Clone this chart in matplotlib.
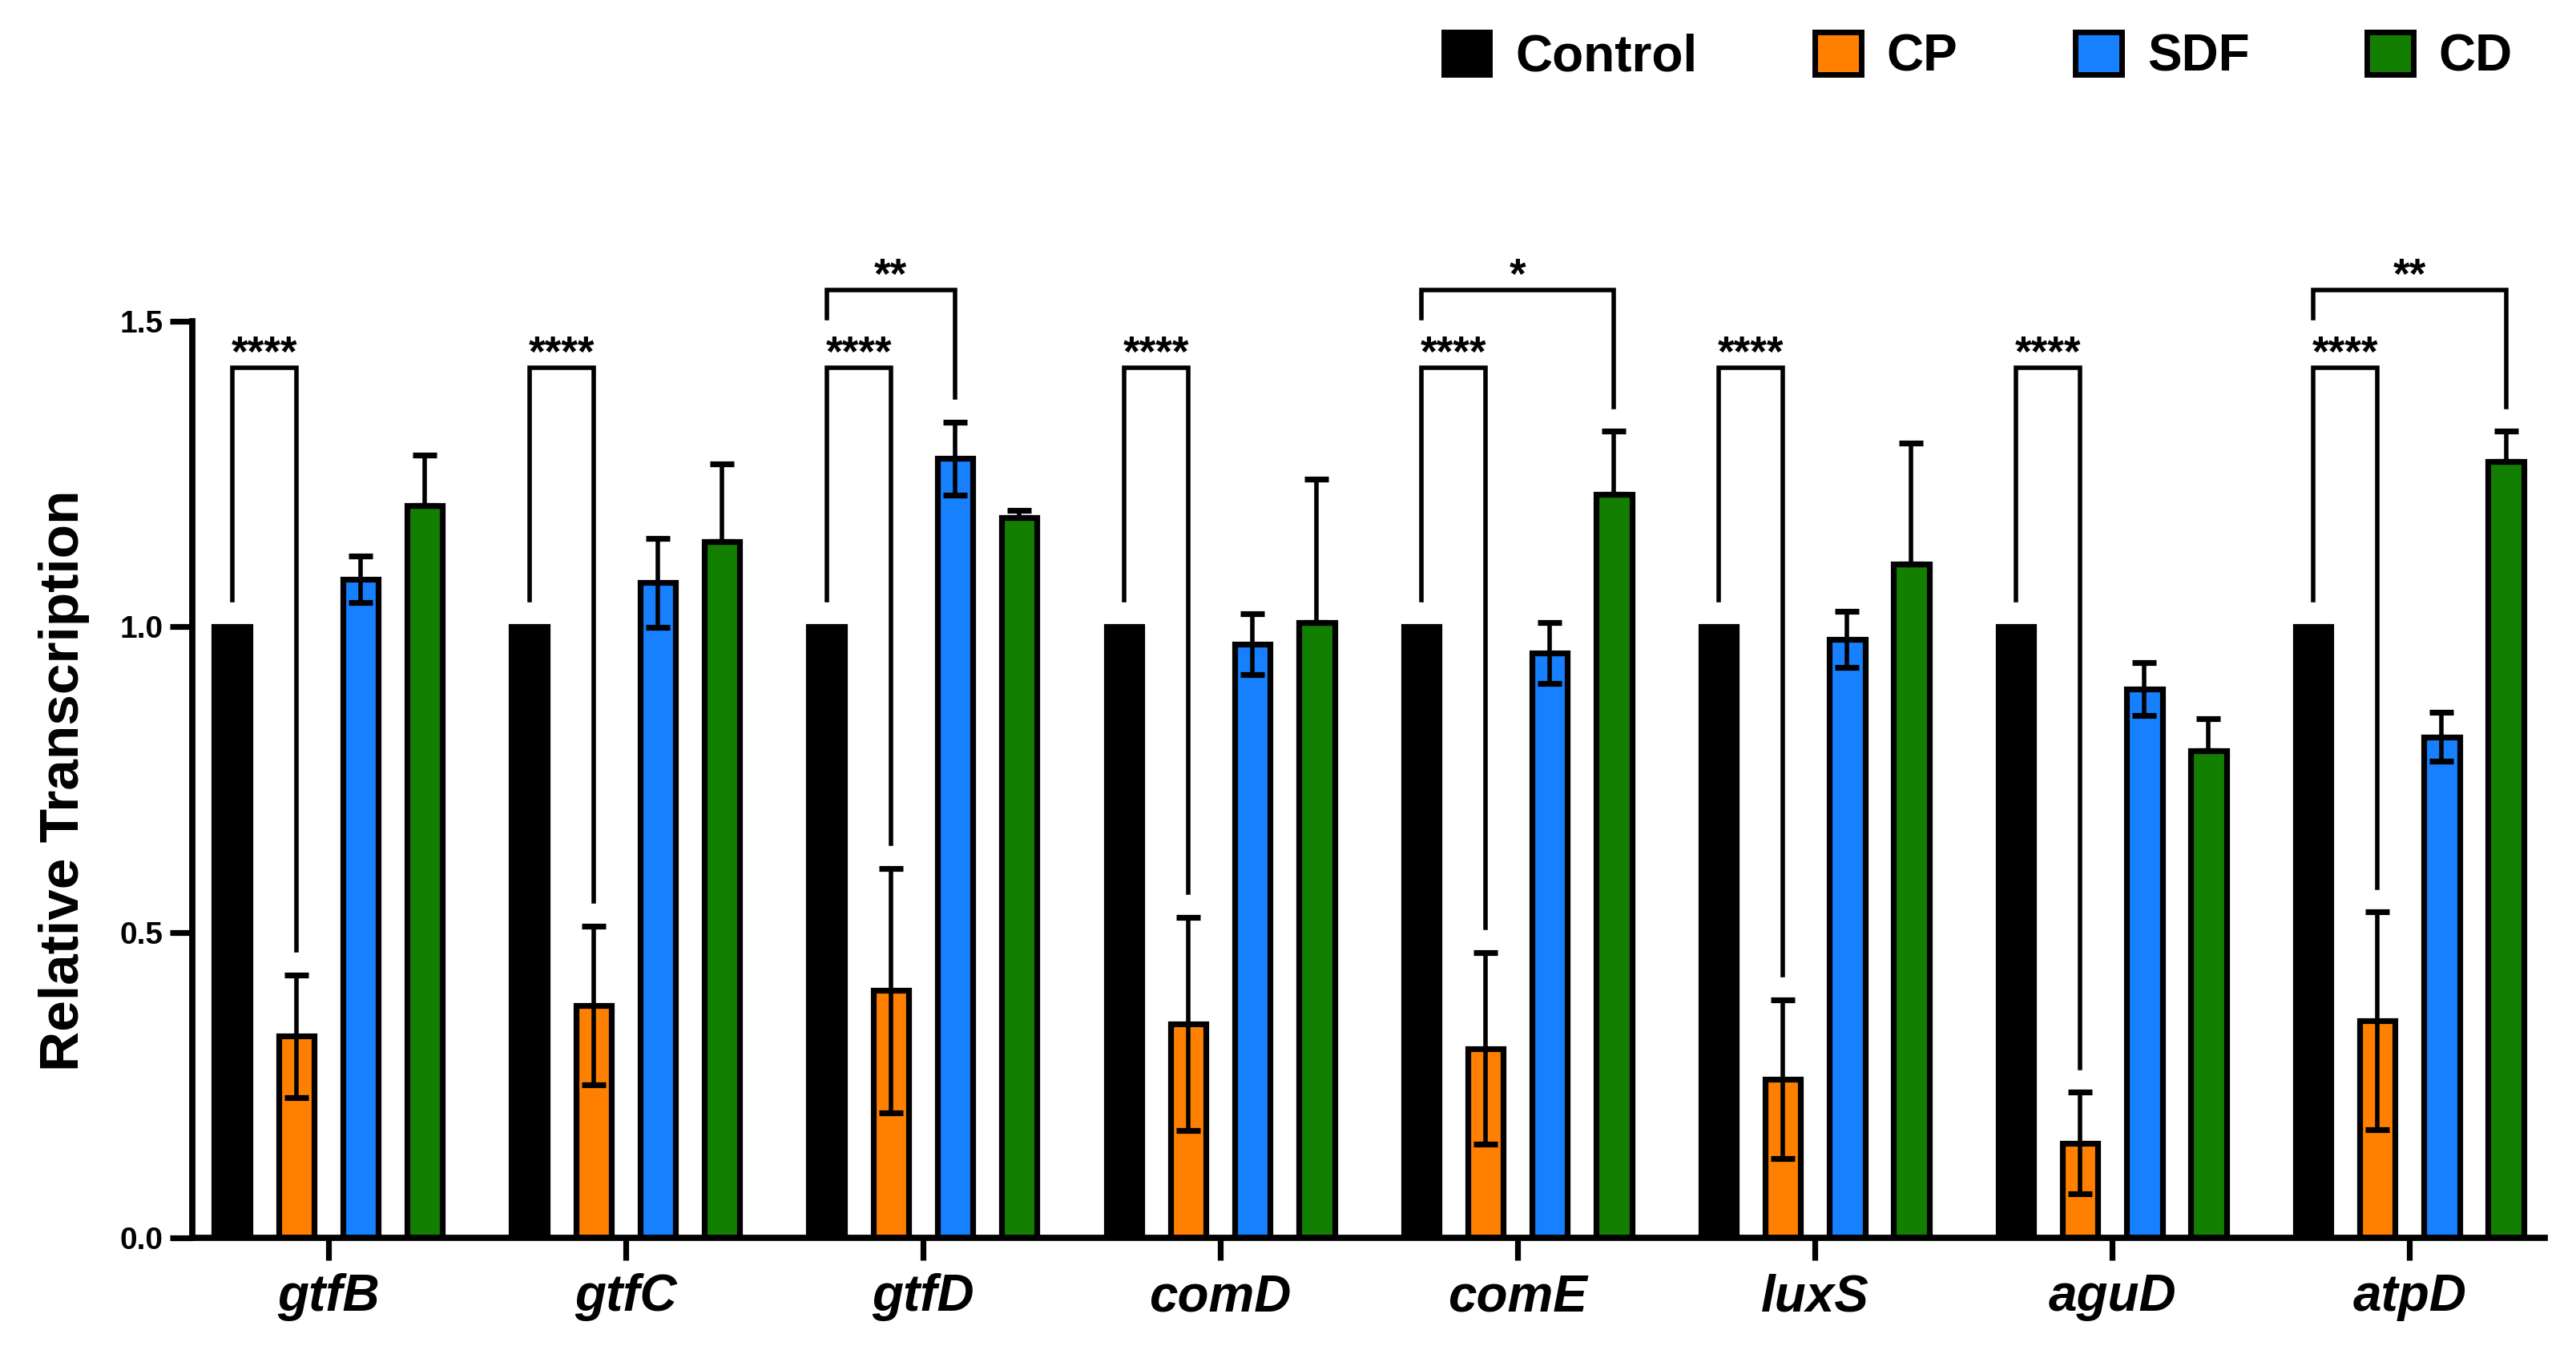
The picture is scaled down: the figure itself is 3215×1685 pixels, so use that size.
import numpy as np
import matplotlib
matplotlib.use("Agg")
import matplotlib.pyplot as plt
from matplotlib.patches import Patch

plt.rcParams['font.family'] = ['Liberation Sans', 'DejaVu Sans']
plt.rcParams['font.weight'] = 'bold'

genes = ['gtfB', 'gtfC', 'gtfD', 'comD', 'comE', 'luxS', 'aguD', 'atpD']
groups = ['Control', 'CP', 'SDF', 'CD']
colors = ['#000000', '#FF8000', '#1780FF', '#127F00']

control = [1.0, 1.0, 1.0, 1.0, 1.0, 1.0, 1.0, 1.0]
cp = [0.33, 0.38, 0.405, 0.35, 0.31, 0.26, 0.155, 0.355]
cp_err = [0.10, 0.13, 0.20, 0.175, 0.157, 0.13, 0.083, 0.178]
sdf = [1.078, 1.072, 1.275, 0.971, 0.957, 0.979, 0.898, 0.820]
sdf_err = [0.038, 0.073, 0.06, 0.05, 0.05, 0.046, 0.043, 0.04]
cd = [1.198, 1.139, 1.178, 1.007, 1.216, 1.103, 0.797, 1.271]
cd_err = [0.083, 0.128, 0.012, 0.234, 0.104, 0.197, 0.053, 0.049]

# significance: (gene index, group compared with Control, label)
short_sig = [(i, 1, '****') for i in range(8)]
long_sig = [(2, 2, '**'), (4, 3, '*'), (7, 3, '**')]

fig = plt.figure(figsize=(16.08, 8.425), dpi=200)
ax = fig.add_axes([0.0746, 0.0831, 0.913, 0.679])

x = np.arange(len(genes))
off = 0.216
w = 0.12
lw = 2.6
vals = [control, cp, sdf, cd]
for k in range(4):
    ax.bar(x + (k - 1.5) * off, vals[k], width=w, color=colors[k],
           edgecolor='black', linewidth=lw, zorder=2)

ekw = dict(fmt='none', ecolor='black', elinewidth=2.0, capsize=5.5,
           capthick=2.6, zorder=3)
ax.errorbar(x - 0.5 * off, cp, yerr=cp_err, **ekw)
ax.errorbar(x + 0.5 * off, sdf, yerr=sdf_err, **ekw)
ax.errorbar(x + 1.5 * off, cd, yerr=[np.zeros(8), cd_err], **ekw)

tops = [np.array(control), np.array(cp) + cp_err,
        np.array(sdf) + sdf_err, np.array(cd) + cd_err]


def bracket(i, k, y, left_end, label):
    x0 = i - 1.5 * off
    x1 = i + (k - 1.5) * off
    right_end = tops[k][i] + 0.04
    ax.plot([x0, x0, x1, x1], [left_end, y, y, right_end], color='black',
            lw=2.0, clip_on=False, solid_joinstyle='miter', zorder=4)
    ax.text((x0 + x1) / 2, y + 0.003, label, ha='center', va='baseline',
            fontsize=19, fontweight='bold', clip_on=False)


for i, k, s in short_sig:
    bracket(i, k, 1.424, 1.044, s)
for i, k, s in long_sig:
    bracket(i, k, 1.551, 1.505, s)

ax.set_xlim(-0.458, 7.455)
ax.set_ylim(0, 1.5)
ax.set_yticks([0, 0.5, 1.0, 1.5])
ax.set_yticklabels(['0.0', '0.5', '1.0', '1.5'], fontsize=14, fontweight='bold')
ax.set_xticks(x)
ax.set_xticklabels(genes, fontsize=23, fontweight='bold', style='italic')
ax.tick_params(axis='both', width=2.6, length=10, direction='out')
ax.tick_params(axis='y', pad=3)
ax.tick_params(axis='x', pad=6)
for s in ['top', 'right']:
    ax.spines[s].set_visible(False)
for s in ['left', 'bottom']:
    ax.spines[s].set_linewidth(2.8)
ax.spines['left'].set_bounds(0, 1.5)

fig.text(0.025, 0.422, 'Relative Transcription', rotation=90, ha='center',
         va='center', fontsize=25, fontweight='bold')

handles = [Patch(facecolor=c, edgecolor='black', linewidth=2.5) for c in colors]
fig.legend(handles, groups, loc='center right', bbox_to_anchor=(0.993, 0.958),
           ncol=4, frameon=False, handlelength=0.9,
           handleheight=0.9, handletextpad=0.5, columnspacing=2.3,
           prop={'weight': 'bold', 'size': 23})

fig.savefig('out.png', dpi=200)
